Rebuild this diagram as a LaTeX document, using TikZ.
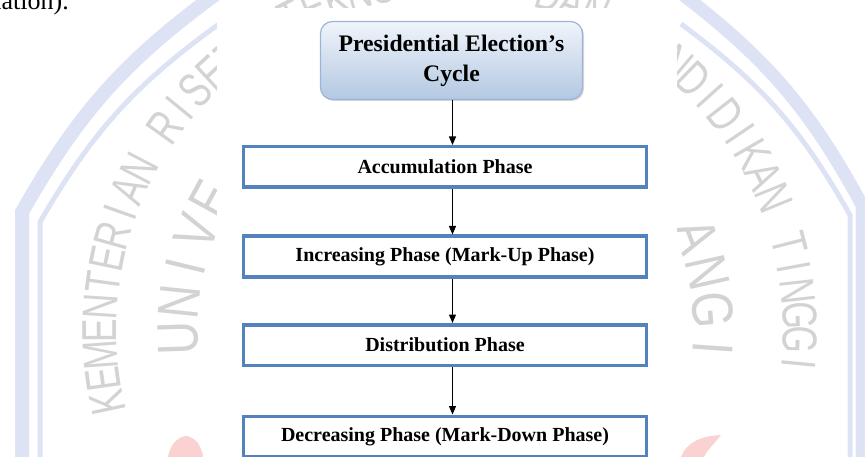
\documentclass[tikz,border=0pt]{standalone}
\usepackage{fontspec}
\setmainfont{Liberation Serif}
\newfontfamily\wmfont{Liberation Sans}
\usetikzlibrary{arrows.meta,shadows}
\definecolor{wmgray}{HTML}{D3D3D3}
\definecolor{wmband}{HTML}{DDE3F4}
\definecolor{wmpink}{HTML}{FBD2D2}
\definecolor{boxblue}{HTML}{5383BE}
\definecolor{titletop}{HTML}{F0F4FA}
\definecolor{titlebot}{HTML}{B3C8E2}
\definecolor{titleedge}{HTML}{9CB4D5}
\tikzset{
  wmouter/.style={text=wmgray,inner sep=0pt,font=\wmfont\fontsize{49}{49}\selectfont},
  wminner/.style={text=wmgray,inner sep=0pt,font=\wmfont\fontsize{58}{58}\selectfont},
  titlebox/.style={draw=titleedge,line width=1.2pt,rounded corners=12pt,
    top color=titletop,bottom color=titlebot,minimum width=262pt,minimum height=78pt,
    align=center,font=\bfseries\fontsize{23.7}{30}\selectfont,
    drop shadow={shadow xshift=1.5pt,shadow yshift=-1.5pt,opacity=0.3}},
  phasebox/.style={draw=boxblue,line width=3.5pt,fill=white,minimum width=403pt,
    minimum height=40.5pt,font=\bfseries\fontsize{20}{24}\selectfont},
  flowarrow/.style={line width=1.2pt,-{Triangle[length=8.5pt,width=7pt]}}
}
\begin{document}
\begin{tikzpicture}[x=1pt,y=-1pt]
\useasboundingbox (0,0) rectangle (865,457);
\clip (0,0) rectangle (865,457);
% ---- watermark bands
\draw[wmband,line width=14pt] (216,-6) to[bend right=12] (22,212) -- (22,470);
\draw[wmband,line width=5pt] (219,24) to[bend right=12] (40,222) -- (40,470);
\draw[wmband,line width=13pt] (682,-6) to[bend left=12] (862,205) -- (862,470);
\draw[wmband,line width=5pt] (681,24) to[bend left=12] (850,215) -- (850,470);
% ---- watermark pink shapes
\fill[wmpink] (168,457) .. controls (170,445) and (178,436) .. (187,436) .. controls (197,438) and (202,448) .. (203,457) -- cycle;
\fill[wmpink] (681,457) .. controls (686,443) and (700,436) .. (721,435) .. controls (713,445) and (706,452) .. (704,457) -- cycle;
% ---- watermark ring text
\foreach \ch [count=\i from 0] in {K,E,M,E,N,T,E,R,I,A,N,{},R,I,S,E,T,{,},{},T,E,K,N,O,L,O,G,I,{,},{},D,A,N,{},P,E,N,D,I,D,I,K,A,N,{},T,I,N,G,G,I}{
  \pgfmathsetmacro\ang{192-3.95*\i}
  \node[wmouter,rotate=\ang-90] (wo\i) at ({450+350*cos(\ang)},{330-350*sin(\ang)}) {\scalebox{0.72}[1]{\ch}};
}
\foreach \ch/\ang [count=\i] in {U/181.7,N/174.1,I/166.5,V/158.9,E/151.3}{
  \node[wminner,rotate=\ang-90] (wl\i) at ({450+272*cos(\ang)},{330-272*sin(\ang)}) {\scalebox{0.8}[1]{\ch}};
}
\foreach \ch/\ang [count=\i] in {A/20.8,N/12.6,G/4.3,I/-4.0}{
  \node[wminner,rotate=\ang-90] (wr\i) at ({450+264*cos(\ang)},{330-264*sin(\ang)}) {\scalebox{0.8}[1]{\ch}};
}
% ---- cut-off text line above
\node[anchor=base east,inner sep=0pt,font=\fontsize{26}{30}\selectfont] (prev) at (69,10) {uation).};
% ---- white panel
\fill[white] (217,8) rectangle (677,470);
% ---- diagram
\coordinate (ax) at (452.5,0);
\node[titlebox] (t) at (451.5,60.5) {Presidential Election’s\\Cycle};
\node[phasebox] (b1) at (445,167) {Accumulation Phase};
\node[phasebox] (b2) at (445,256.5) {Increasing Phase (Mark-Up Phase)};
\node[phasebox] (b3) at (445,345) {Distribution Phase};
\node[phasebox] (b4) at (445,436.5) {Decreasing Phase (Mark-Down Phase)};
\draw[flowarrow] (t.south -| ax) -- (b1.north -| ax);
\draw[flowarrow] (b1.south -| ax) -- (b2.north -| ax);
\draw[flowarrow] (b2.south -| ax) -- (b3.north -| ax);
\draw[flowarrow] (b3.south -| ax) -- (b4.north -| ax);
\end{tikzpicture}
\end{document}
